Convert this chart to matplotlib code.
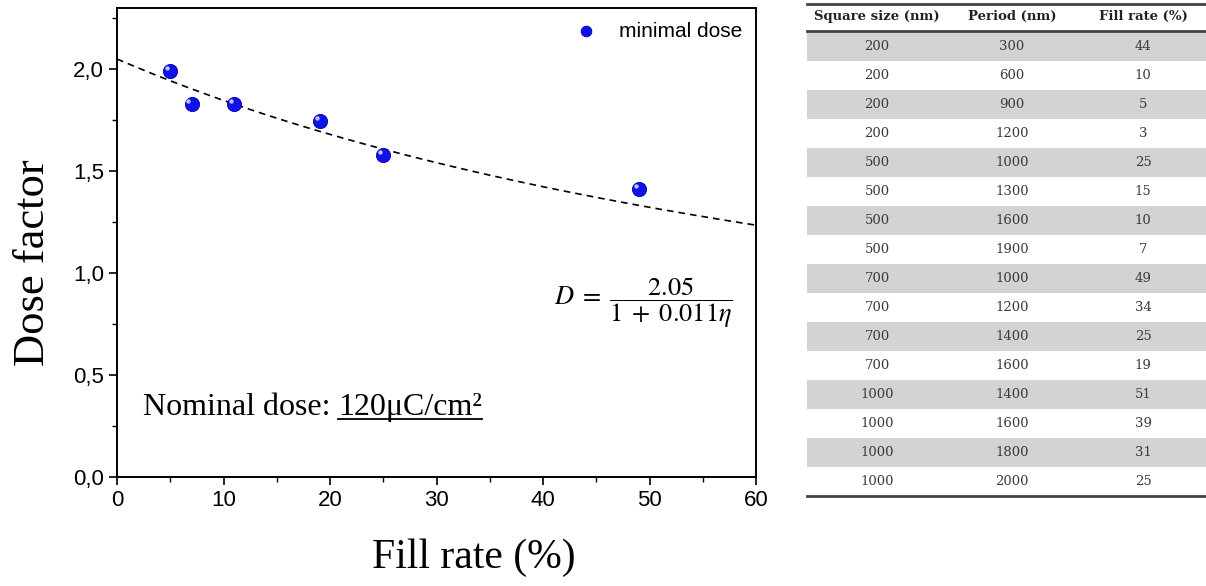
import matplotlib
matplotlib.use("Agg")
import matplotlib.pyplot as plt
import numpy as np
from matplotlib.ticker import MultipleLocator, FuncFormatter
from matplotlib.transforms import ScaledTranslation
from matplotlib.lines import Line2D
from matplotlib.patches import Rectangle

# ---- data ----
fill_rate = [5, 7, 11, 19.1, 25, 49]
dose_factor = [1.99, 1.83, 1.83, 1.745, 1.578, 1.412]
fit_a = 2.05
fit_b = 0.011

table_header = ["Square size (nm)", "Period (nm)", "Fill rate (%)"]
square_size = [200, 200, 200, 200, 500, 500, 500, 500, 700, 700, 700, 700, 1000, 1000, 1000, 1000]
period = [300, 600, 900, 1200, 1000, 1300, 1600, 1900, 1000, 1200, 1400, 1600, 1400, 1600, 1800, 2000]
table_fill = [44, 10, 5, 3, 25, 15, 10, 7, 49, 34, 25, 19, 51, 39, 31, 25]

plt.rcParams['mathtext.fontset'] = 'stix'
fig = plt.figure(figsize=(12.06, 5.86), dpi=100)
W, H = 1206, 586

# ---- main axes ----
ax = fig.add_axes([117 / W, 1 - 477 / H, (756 - 117) / W, (477 - 8) / H])
xf = np.linspace(0, 60, 300)
ax.plot(xf, fit_a / (1 + fit_b * xf), ls=(0, (4, 3)), color='black', lw=1.2, zorder=2)

ax.scatter(fill_rate, dose_factor, s=105, color='#1010e8', edgecolor='#0000b0', lw=0.6,
           zorder=3, label='minimal dose')
hl = ax.transData + ScaledTranslation(-2.2 / 72, 2.2 / 72, fig.dpi_scale_trans)
ax.scatter(fill_rate, dose_factor, s=10, color='#b8c8ff', lw=0, zorder=4, transform=hl)

ax.set_xlim(0, 60)
ax.set_ylim(0, 2.3)
ax.xaxis.set_major_locator(MultipleLocator(10))
ax.xaxis.set_minor_locator(MultipleLocator(5))
ax.yaxis.set_major_locator(MultipleLocator(0.5))
ax.yaxis.set_minor_locator(MultipleLocator(0.25))
ax.yaxis.set_major_formatter(FuncFormatter(lambda v, p: f"{v:.1f}".replace('.', ',')))
for s in ax.spines.values():
    s.set_linewidth(1.4)
ax.tick_params(which='major', direction='out', length=6, width=1.2, labelsize=16,
               top=False, right=False)
ax.tick_params(which='minor', direction='out', length=3.5, width=1.0, top=False, right=False)
for lab in ax.get_xticklabels() + ax.get_yticklabels():
    lab.set_fontfamily('Liberation Sans')

ax.set_xlabel("Fill rate (%)", fontfamily='Liberation Serif', fontsize=30, labelpad=20)
ax.xaxis.set_label_coords(0.558, -0.13)
ax.xaxis.label.set_va('top')
ax.set_ylabel("Dose factor", fontfamily='Liberation Serif', fontsize=32)
ax.yaxis.set_label_coords(-0.1, 0.458)

leg = ax.legend(loc='upper right', frameon=False, handletextpad=0.6, markerscale=0.75,
                borderaxespad=0.25, prop={'family': 'Liberation Sans', 'size': 15})

ax.text(0.964, 0.371, r'$D\;=\;\dfrac{2.05}{1\;+\;0.011\eta}$', transform=ax.transAxes,
        ha='right', va='center', fontsize=19)

ty = 0.132
t1 = ax.text(0.04, ty, "Nominal dose: ", transform=ax.transAxes, ha='left', va='baseline',
             fontfamily='Liberation Serif', fontsize=23)
fig.canvas.draw()
r = fig.canvas.get_renderer()
bb1 = t1.get_window_extent(r)
base_y = ax.transAxes.transform((0.04, ty))[1]
t2 = fig.text(bb1.x1 / W, base_y / H, "120μC/cm²", ha='left', va='baseline',
              fontfamily='Liberation Serif', fontsize=23)
fig.canvas.draw()
bb2 = t2.get_window_extent(r)
fig.add_artist(Line2D([bb2.x0 / W, bb2.x1 / W], [(base_y - 4) / H] * 2, color='black', lw=1.3))

# ---- table ----
tx0, tx1 = 807, 1206
ty_top, ty_bot = 3, 496
tax = fig.add_axes([tx0 / W, 1 - ty_bot / H, (tx1 - tx0) / W, (ty_bot - ty_top) / H])
nrows = len(square_size)
tax.set_xlim(0, 3)
tax.set_ylim(nrows + 1.0, 0)
tax.axis('off')
col_x = [(877 - tx0) / (tx1 - tx0) * 3, (1012 - tx0) / (tx1 - tx0) * 3, (1143 - tx0) / (tx1 - tx0) * 3]
for i in range(nrows):
    y = 1 + i
    if i % 2 == 0:
        tax.add_patch(Rectangle((0, y), 3, 1, color='#d3d3d3', lw=0))
    for cx, val in zip(col_x, (square_size[i], period[i], table_fill[i])):
        tax.text(cx, y + 0.5, str(val), ha='center', va='center', fontfamily='DejaVu Serif',
                 fontsize=9.5, color='#3a3a3a')
for cx, h in zip(col_x, table_header):
    tax.text(cx, 0.45, h, ha='center', va='center', fontfamily='DejaVu Serif',
             fontsize=9.5, fontweight='bold', color='#222222')
tax.plot([0, 3], [0.02, 0.02], color='#444444', lw=2, clip_on=False)
tax.plot([0, 3], [0.98, 0.98], color='#444444', lw=2, clip_on=False)
tax.plot([0, 3], [nrows + 1, nrows + 1], color='#444444', lw=2, clip_on=False)

fig.savefig("out.png", dpi=100)
